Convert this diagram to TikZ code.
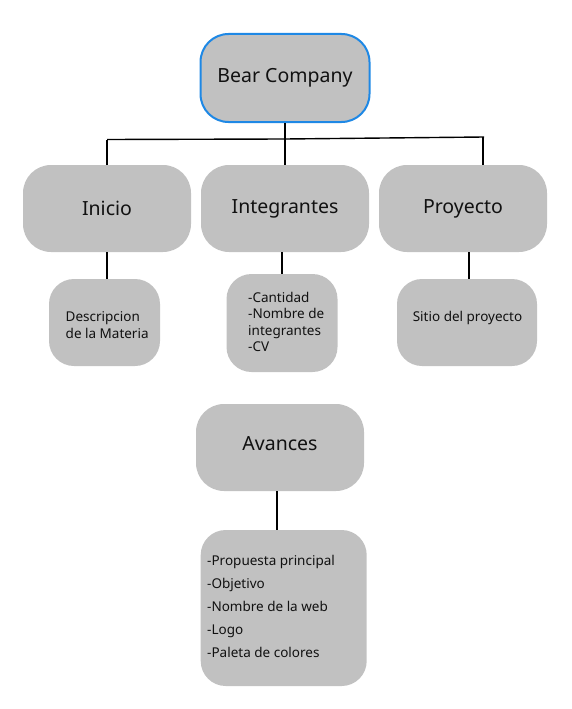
\documentclass[tikz,border=0pt]{standalone}
\usepackage{fontspec}
\setmainfont{Noto Sans}
\usepackage{tikz}
\usepackage{xcolor}
\definecolor{cajagris}{HTML}{C1C1C1}
\definecolor{bordeazul}{HTML}{1E88E5}
\definecolor{letra}{HTML}{111111}

\begin{document}
\begin{tikzpicture}[x=1pt,y=-1pt,
            caja/.style={fill=cajagris,rounded corners=28pt,inner sep=0pt,text=letra,font=\fontsize{19.5}{22}\selectfont},
            hoja/.style={fill=cajagris,rounded corners=25pt,inner sep=0pt},
            texto/.style={text=letra,inner sep=0pt,align=left,font=\fontsize{13.5}{16.5}\selectfont},
            linea/.style={line width=1.4pt,black}]
            \useasboundingbox (0,0) rectangle (571,709);
            \node[caja,draw=bordeazul,line width=2pt,minimum width=169pt,minimum height=88pt] (bear) at (285,78) {Bear Company};
            \node[caja,minimum width=168pt,minimum height=87pt] (inicio) at (107,208.5) {Inicio};
            \node[caja,minimum width=168pt,minimum height=87pt] (integ) at (285,208.5) {Integrantes};
            \node[caja,minimum width=168pt,minimum height=87pt] (proyecto) at (463,208.5) {Proyecto};
            \node[hoja,minimum width=111pt,minimum height=87pt] (desc) at (104.5,322.5) {};
            \node[hoja,minimum width=111pt,minimum height=98pt] (lista) at (282,323) {};
            \node[hoja,minimum width=140pt,minimum height=87pt] (sitio) at (467,322.5) {};
            \node[caja,minimum width=168pt,minimum height=87pt,text depth=8pt] (avances) at (280,447.5) {Avances};
            \node[hoja,minimum width=166pt,minimum height=156pt] (detalles) at (283.7,608) {};
            \node[texto,anchor=west] (desctxt) at (65.5,325) {Descripcion\\de la Materia};
            \node[texto,anchor=west] (listatxt) at (248,322) {-Cantidad\\-Nombre de\\integrantes\\-CV};
            \node[texto] (sitiotxt) at (467.5,317.5) {Sitio del proyecto};
            \node[texto,anchor=west,font=\fontsize{13.5}{23}\selectfont] (detallestxt) at (207,606) {-Propuesta principal\\-Objetivo\\-Nombre de la web\\-Logo\\-Paleta de colores};
            % barra
            \coordinate (barl) at (107,139.5);
            \coordinate (barm) at (285,139);
            \coordinate (barr) at (483,137);
            \draw[linea] (barl) -- (barm) -- ([xshift=1pt]barr);
            \draw[linea] (bear.south) -- (integ.north);
            \draw[linea] (barl) -- (inicio.north);
            \draw[linea] (barr) -- (barr |- proyecto.north);
            \draw[linea] (inicio.south) -- (inicio.south |- desc.north);
            \draw[linea] (lista.north |- integ.south) -- (lista.north);
            \draw[linea] ([xshift=2pt]sitio.north |- proyecto.south) -- ([xshift=2pt]sitio.north);
            \draw[linea] ([xshift=-3pt]avances.south) -- ([xshift=-3pt]avances.south |- detalles.north);
        \end{tikzpicture}
\end{document}
